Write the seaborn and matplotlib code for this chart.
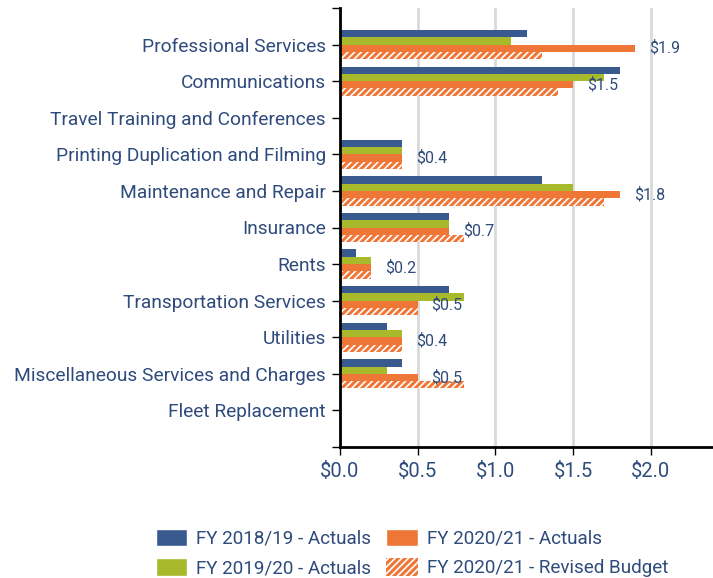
import numpy as np
import pandas as pd
import matplotlib
matplotlib.use("Agg")
import matplotlib.pyplot as plt
import seaborn as sns
from matplotlib.patches import Patch

categories = ["Professional Services", "Communications", "Travel Training and Conferences",
              "Printing Duplication and Filming", "Maintenance and Repair", "Insurance", "Rents",
              "Transportation Services", "Utilities", "Miscellaneous Services and Charges",
              "Fleet Replacement"]
series = ["FY 2018/19 - Actuals", "FY 2019/20 - Actuals", "FY 2020/21 - Actuals",
          "FY 2020/21 - Revised Budget"]
fy1819 = [1.2, 1.8, 0.0, 0.4, 1.3, 0.7, 0.1, 0.7, 0.3, 0.4, 0.0]
fy1920 = [1.1, 1.7, 0.0, 0.4, 1.5, 0.7, 0.2, 0.8, 0.4, 0.3, 0.0]
fy2021 = [1.9, 1.5, 0.0, 0.4, 1.8, 0.7, 0.2, 0.5, 0.4, 0.5, 0.0]
fy2021_budget = [1.3, 1.4, 0.0, 0.4, 1.7, 0.8, 0.2, 0.5, 0.4, 0.8, 0.0]
xticks = [0.0, 0.5, 1.0, 1.5, 2.0]
xtick_labels = ["$0.0", "$0.5", "$1.0", "$1.5", "$2.0"]

colors = ["#395a8e", "#a8b92c", "#ee7737", "#ee7737"]
text_color = "#2f4b7c"

rows = []
for s, vals in zip(series, [fy1819, fy1920, fy2021, fy2021_budget]):
    for c, v in zip(categories, vals):
        rows.append({"Category": c, "Series": s, "Value": v})
df = pd.DataFrame(rows)

sns.set_style("white")
plt.rcParams['font.family'] = ['Roboto', 'DejaVu Sans']
plt.rcParams['hatch.linewidth'] = 1.2

fig = plt.figure(figsize=(7.13, 5.78), dpi=100)
ax = fig.add_axes([340/713, 1-447/578, 1-340/713, (447-8)/578])

sns.barplot(data=df, y="Category", x="Value", hue="Series", order=categories,
            hue_order=series, palette=colors, orient="h", width=0.8, ax=ax,
            legend=False, linewidth=0, saturation=1)

# hatch the revised budget bars
for bar in ax.containers[3]:
    bar.set_hatch("/////")
    bar.set_edgecolor("white")
    bar.set_linewidth(0)

# value labels for FY 2020/21 actuals
labels = [f"${v:.1f}" if v > 0 else "" for v in fy2021]
ax.bar_label(ax.containers[2], labels=labels, padding=10, color=text_color, fontsize=11.5)

ax.set_xlim(0, 2.4)
ax.set_ylim(11, -1)
ax.set_yticks(range(-1, 12))
ax.set_yticklabels([""] + categories + [""], fontsize=13.8, color=text_color)
ax.set_xticks(xticks)
ax.set_xticklabels(xtick_labels, fontsize=14.5, color=text_color)
ax.set_xlabel("")
ax.set_ylabel("")
ax.xaxis.grid(True, color="#d9d9d9", linewidth=2)
ax.set_axisbelow(True)
for side in ["top", "right"]:
    ax.spines[side].set_visible(False)
for side in ["left", "bottom"]:
    ax.spines[side].set_color("black")
    ax.spines[side].set_linewidth(2)
ax.tick_params(axis="both", which="both", length=6, width=1, color="black", left=True, bottom=True)
ax.tick_params(axis="x", pad=5)
ax.tick_params(axis="y", pad=4)

handles = [Patch(facecolor=colors[0]), Patch(facecolor=colors[1]), Patch(facecolor=colors[2]),
           Patch(facecolor=colors[3], edgecolor="white", hatch="/////", linewidth=0)]
leg = fig.legend(handles, series, ncol=2, loc="center", bbox_to_anchor=(0.578, 0.0433),
                 frameon=False, fontsize=13.6, handlelength=1.65, handleheight=1.05,
                 columnspacing=0.8, labelspacing=0.55, handletextpad=0.5,
                 borderpad=0, borderaxespad=0)
for t in leg.get_texts():
    t.set_color(text_color)

fig.savefig("out.png", dpi=100)
